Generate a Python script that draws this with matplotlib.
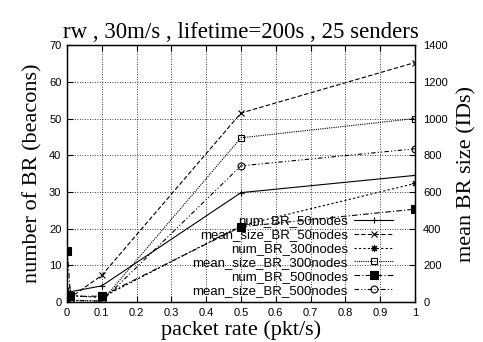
import matplotlib
matplotlib.use("Agg")
import matplotlib.pyplot as plt

# packet rates (pkt/s)
packet_rate = [0.001, 0.01, 0.1, 0.5, 1.0]

# number of BR (beacons) -- left axis
num_br_50 = [3.0, 2.8, 4.4, 29.8, 34.5]
num_br_300 = [1.5, 1.8, 1.2, 20.8, 32.3]
num_br_500 = [14.0, 1.5, 1.6, 20.5, 25.3]

# mean BR size (IDs) -- right axis
mean_size_50 = [70, 25, 145, 1030, 1305]
mean_size_300 = [15, 10, 5, 895, 1000]
mean_size_500 = [20, 8, 5, 742, 835]

x_ticks = [0, 0.1, 0.2, 0.3, 0.4, 0.5, 0.6, 0.7, 0.8, 0.9, 1]
x_tick_labels = ["0", "0.1", "0.2", "0.3", "0.4", "0.5", "0.6", "0.7", "0.8", "0.9", "1"]
left_ticks = [0, 10, 20, 30, 40, 50, 60, 70]
right_ticks = [0, 200, 400, 600, 800, 1000, 1200, 1400]

serif = ["Liberation Serif", "DejaVu Serif"]
sans = ["Liberation Sans", "DejaVu Sans"]

fig = plt.figure(figsize=(4.83, 3.42), dpi=100)
ax = fig.add_axes([0.1387, 0.117, 0.7203, 0.751])
ax2 = ax.twinx()

lw = 0.8
ms = 5
h1, = ax.plot(packet_rate, num_br_50, color="black", lw=lw, ls="-",
              marker="+", ms=ms, mew=0.8, label="num_BR_50nodes")
h2, = ax2.plot(packet_rate, mean_size_50, color="black", lw=lw, ls=(0, (4, 2)),
               marker="x", ms=ms - 1, mew=0.8, label="mean_size_BR_50nodes")
h3, = ax.plot(packet_rate, num_br_300, color="black", lw=lw, ls=(0, (2, 2)),
              marker=(8, 2, 0), ms=ms, mew=0.8, label="num_BR_300nodes")
h4, = ax2.plot(packet_rate, mean_size_300, color="black", lw=lw, ls=(0, (1, 1)),
               marker="s", ms=ms, mfc="none", mew=0.8, label="mean_size_BR_300nodes")
h5, = ax.plot(packet_rate, num_br_500, color="black", lw=lw, ls=(0, (5, 2, 1, 2)),
              marker="s", ms=ms + 1, mfc="black", mew=0.8, label="num_BR_500nodes")
h6, = ax2.plot(packet_rate, mean_size_500, color="black", lw=lw, ls=(0, (4, 2, 1, 2, 1, 2)),
               marker="o", ms=ms, mfc="none", mew=0.8, label="mean_size_BR_500nodes")

ax.set_xlim(0, 1)
ax.set_ylim(0, 70)
ax2.set_ylim(0, 1400)

ax.set_xticks(x_ticks)
ax.set_xticklabels(x_tick_labels, family=sans, fontsize=8)
ax.set_yticks(left_ticks)
ax.set_yticklabels([str(v) for v in left_ticks], family=sans, fontsize=8)
ax2.set_yticks(right_ticks)
ax2.set_yticklabels([str(v) for v in right_ticks], family=sans, fontsize=8)

ax.tick_params(axis="both", direction="in", length=4, width=0.8, top=True, pad=4)
ax2.tick_params(axis="y", direction="in", length=4, width=0.8, pad=6)

ax.grid(True, color="black", ls=(0, (1, 2)), lw=0.6)

for a in (ax, ax2):
    for s in a.spines.values():
        s.set_linewidth(0.9)

ax.set_title("rw , 30m/s , lifetime=200s , 25 senders", family=serif, fontsize=16.5, pad=5)
ax.set_xlabel("packet rate (pkt/s)", family=serif, fontsize=16, labelpad=2)
ax.set_ylabel("number of BR (beacons)", family=serif, fontsize=16, labelpad=5)
ax2.set_ylabel("mean BR size (IDs)", family=serif, fontsize=16, labelpad=7)

ax2.legend(handles=[h1, h2, h3, h4, h5, h6], loc="lower right",
           bbox_to_anchor=(0.965, -0.015), frameon=False, markerfirst=False,
           numpoints=1, handlelength=3.0, handletextpad=0.45,
           labelspacing=0.12, borderpad=0.2, prop={"family": sans, "size": 9.5})

fig.savefig("out.png", dpi=100)
